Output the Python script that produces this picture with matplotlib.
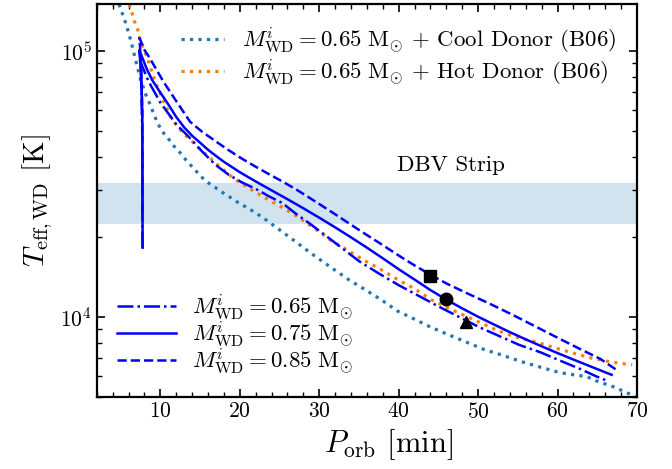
import numpy as np
import matplotlib
matplotlib.use("Agg")
import matplotlib.pyplot as plt
from matplotlib.ticker import MultipleLocator, NullFormatter, LogLocator

plt.rcParams["font.family"] = "serif"
plt.rcParams["font.serif"] = ["cmr10"]
plt.rcParams["mathtext.fontset"] = "cm"
plt.rcParams["axes.formatter.use_mathtext"] = True

# ---------------------------------------------------------------------
# datos (P_orb en min, T_eff en K)
# ---------------------------------------------------------------------
p_065 = [7.75, 7.72, 7.6, 7.5, 7.45, 7.7, 8.5, 10.0, 12.06, 13.57, 15.25, 16.94,
         18.62, 20.3, 22.0, 23.67, 25.35, 27.0, 29.0, 31.0, 33.0, 35.0, 37.5,
         40.0, 42.6, 45.1, 47.7, 50.2, 52.7, 55.2, 57.8, 60.3, 62.8, 64.9, 66.0]
t_065 = [18200, 50000, 75000, 88000, 92000, 88000, 77000, 64000, 52700, 47600,
         41900, 37300, 34200, 32000, 30300, 28400, 26800, 24500, 22200, 20000,
         18000, 16200, 14550, 13150, 11950, 10900, 9950, 9120, 8450, 7830, 7360,
         6840, 6370, 5960, 5780]

p_075 = [7.77, 7.75, 7.72, 7.6, 7.45, 7.33, 7.55, 8.3, 9.0, 10.0, 11.0, 12.0,
         13.0, 14.0, 15.0, 16.0, 17.0, 18.0, 20.0, 22.0, 24.0, 26.0, 28.0, 30.0,
         32.0, 34.0, 36.0, 38.0, 40.0, 42.0, 44.0, 46.0, 48.0, 50.0, 52.0, 54.0,
         56.0, 58.0, 60.0, 62.0, 64.0, 66.0, 66.8]
t_075 = [18200, 40000, 60000, 80000, 93000, 100500, 97500, 85500, 77500, 69800,
         63000, 56500, 51600, 48000, 45200, 42500, 40300, 38300, 35000, 32300,
         29900, 27700, 25600, 23600, 21700, 19900, 18200, 16600, 15100, 13800,
         12600, 11600, 10750, 10000, 9350, 8750, 8220, 7740, 7300, 6900, 6530,
         6180, 6050]

p_085 = [7.75, 7.72, 7.6, 7.45, 7.35, 7.6, 8.0, 8.7, 10.4, 12.06, 13.74, 15.25,
         16.94, 18.62, 20.3, 22.0, 23.67, 25.35, 27.05, 28.72, 30.4, 32.1, 34.0,
         36.0, 38.0, 40.0, 42.0, 44.0, 46.0, 48.5, 51.45, 54.4, 57.35, 60.3,
         62.8, 65.35, 67.45]
t_085 = [25000, 60000, 85000, 103000, 112000, 108000, 101000, 93700, 76600,
         64400, 54200, 49700, 45800, 42300, 39300, 36700, 34400, 32300, 30200,
         28100, 26100, 24200, 22200, 20300, 18600, 17000, 15600, 14400, 13350,
         12300, 11200, 10150, 9150, 8250, 7570, 6950, 6300]

# Bildsten et al. (2006)
p_cool = [4.8, 5.66, 6.34, 6.84, 7.47, 8.11, 8.74, 9.57, 10.2, 10.96, 11.68,
          12.53, 13.28, 14.08, 14.92, 15.76, 16.82, 17.78, 18.84, 19.8, 20.86,
          21.91, 22.83, 25.0, 27.0, 29.0, 31.67, 33.69, 35.67, 37.78, 39.87,
          41.98, 44.09, 46.4, 48.59, 50.82, 53.22, 55.45, 57.77, 60.3, 62.0,
          63.7, 64.8, 67.1, 69.2, 70.0]
t_cool = [150000, 127000, 108000, 93700, 78900, 69200, 62600, 54200, 50000,
          47000, 44000, 41300, 38700, 36500, 34200, 32300, 30800, 29400, 28100,
          26900, 25800, 24700, 23700, 21250, 19200, 17300, 15200, 13800, 12700,
          11600, 10500, 9800, 9120, 8530, 8010, 7520, 7140, 6780, 6470, 6160,
          6050, 5950, 5750, 5440, 5100, 4980]

p_hot = [6.1, 6.41, 6.76, 7.17, 7.47, 7.89, 8.31, 9.44, 10.42, 11.46, 12.94,
         13.91, 14.62, 15.56, 17.36, 19.25, 21.28, 23.38, 25.44, 27.46, 29.5,
         31.46, 33.56, 35.67, 37.69, 39.87, 41.89, 44.09, 46.19, 48.3, 50.4,
         52.5, 54.82, 57.35, 59.66, 61.97, 64.29, 66.82, 69.04, 69.4]
t_hot = [150000, 140000, 129000, 120000, 110000, 102000, 95000, 75500, 64400,
         55300, 48800, 46000, 43700, 41300, 37000, 33100, 30300, 27800, 25700,
         23600, 21400, 19400, 17800, 16300, 15100, 13800, 12800, 11600, 10800,
         10100, 9470, 8860, 8370, 8020, 7640, 7300, 6990, 6750, 6610, 6600]

# sistemas observados
obs_p = [44.0, 46.0, 48.5]
obs_t = [14200, 11650, 9560]
obs_mk = ["s", "o", "^"]

dbv_lo, dbv_hi = 22400, 31900


def main():
    fig, ax = plt.subplots(figsize=(6.72, 4.69), dpi=100)
    fig.subplots_adjust(left=0.144, right=0.948, bottom=0.154, top=0.991)

    ax.axhspan(dbv_lo, dbv_hi, color="C0", alpha=0.2, lw=0, zorder=0)
    ax.text(46.6, 37300, "DBV Strip", fontsize=16.5, ha="center", va="center")

    l1, = ax.plot(p_cool, t_cool, ":", color="C0", lw=2.3)
    l2, = ax.plot(p_hot, t_hot, ":", color="C1", lw=2.3)

    b1, = ax.plot(p_065, t_065, "-.", color="b", lw=1.8)
    b2, = ax.plot(p_075, t_075, "-", color="b", lw=1.8)
    b3, = ax.plot(p_085, t_085, "--", color="b", lw=1.8)

    for p, t, m in zip(obs_p, obs_t, obs_mk):
        ax.plot(p, t, m, color="k", ms=9)

    ax.set_yscale("log")
    ax.set_xlim(2, 70)
    ax.set_ylim(5000, 1.5e5)
    ax.xaxis.set_major_locator(MultipleLocator(10))
    ax.xaxis.set_minor_locator(MultipleLocator(2))
    ax.yaxis.set_minor_locator(LogLocator(subs=np.arange(2, 10)))
    ax.yaxis.set_minor_formatter(NullFormatter())
    ax.tick_params(which="both", direction="in", top=True, right=True,
                   labelsize=15.5)
    ax.tick_params(which="major", length=6, width=1.2)
    ax.tick_params(which="minor", length=3.5, width=1.0)
    for s in ax.spines.values():
        s.set_linewidth(1.6)

    ax.set_xlabel(r"$P_{\rm orb}$ [min]", fontsize=22, x=0.54)
    ax.set_ylabel(r"$T_{\rm eff,WD}$ [K]", fontsize=21)

    leg1 = ax.legend([l1, l2],
                     [r"$M^i_{\rm WD}=0.65\ {\rm M}_{\odot}$ + Cool Donor (B06)",
                      r"$M^i_{\rm WD}=0.65\ {\rm M}_{\odot}$ + Hot Donor (B06)"],
                     loc="upper right", frameon=False, fontsize=16.5,
                     handlelength=1.85, labelspacing=0.1)
    ax.add_artist(leg1)
    ax.legend([b1, b2, b3],
              [r"$M^i_{\rm WD}=0.65\ {\rm M}_{\odot}$",
               r"$M^i_{\rm WD}=0.75\ {\rm M}_{\odot}$",
               r"$M^i_{\rm WD}=0.85\ {\rm M}_{\odot}$"],
              loc="lower left", frameon=False, fontsize=16.5,
              handlelength=2.55, handletextpad=0.7, labelspacing=-0.12)

    fig.savefig("out.png", dpi=100)
    plt.close(fig)


if __name__ == "__main__":
    main()
